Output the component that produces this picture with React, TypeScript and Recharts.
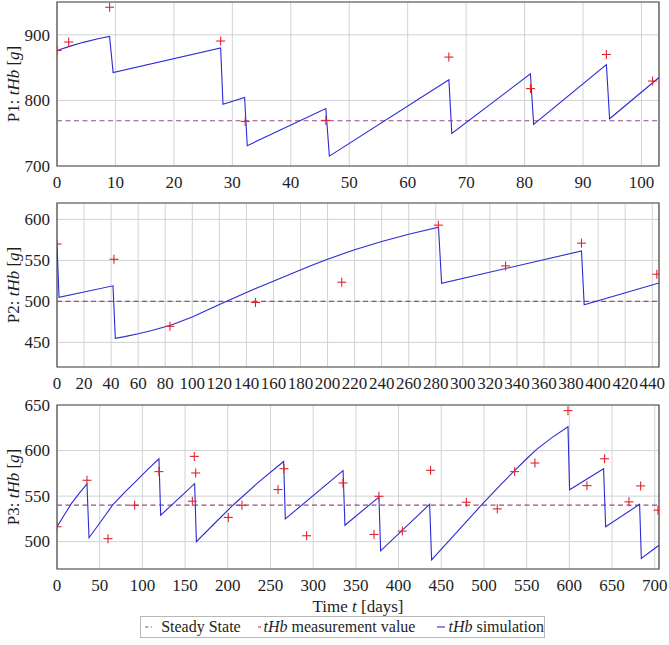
import React from "react";
import {
  ComposedChart,
  Line,
  Scatter,
  XAxis,
  YAxis,
  CartesianGrid,
  ReferenceLine,
  ReferenceArea,
} from "recharts";

// ---------- Data ----------
// Patient 1
const p1SimT = [0, 2, 4.5, 7, 9.0, 9.6, 28.0, 28.4, 32.1, 32.55, 46.0, 46.6, 67.05, 67.55, 81.0, 81.55, 94.0, 94.55, 103];
const p1SimV = [876, 882, 888.5, 894, 897.5, 842.5, 880, 794, 804.5, 731, 787.5, 715, 831.5, 749.5, 840.5, 763.5, 854.5, 772, 835];
const p1MeasT = [0, 2.0, 9.0, 28.0, 32.2, 46.0, 67.05, 81.0, 94.0, 101.9];
const p1MeasV = [876, 889, 942, 890.5, 768, 769.5, 866, 818, 870, 829.5];
const p1Steady = 769;
const p1XTicks = [0, 10, 20, 30, 40, 50, 60, 70, 80, 90, 100];
const p1YTicks = [700, 800, 900];
const p1XDomain = [0, 103];
const p1YDomain = [700, 950];

// Patient 2
const p2SimT = [0, 1.5, 41.4, 43.1, 50, 60, 70, 84, 100, 112, 125, 137.5, 150, 162.5, 175, 187.5, 200, 220, 240, 260, 282, 284.3, 387.7, 389.7, 445];
const p2SimV = [569.6, 505, 519, 455, 457, 460.5, 464.5, 471, 481, 490, 500, 509, 518, 526.5, 535, 543.5, 551.5, 563, 573, 582, 590.5, 522, 561.5, 496, 522.5];
const p2MeasT = [0, 42.1, 83.5, 146.7, 210.5, 281.9, 331.6, 387.7, 443.4];
const p2MeasV = [570, 551.4, 469.6, 498.7, 523.4, 593, 543.3, 571, 533.2];
const p2Steady = 500;
const p2XTicks = [0, 20, 40, 60, 80, 100, 120, 140, 160, 180, 200, 220, 240, 260, 280, 300, 320, 340, 360, 380, 400, 420, 440];
const p2YTicks = [450, 500, 550, 600];
const p2XDomain = [0, 445];
const p2YDomain = [420, 620];

// Patient 3
const p3SimT = [0, 9, 17, 26, 35.1, 37.5, 52, 65, 80, 92, 106, 119.4, 121.4, 161.2, 163.2, 185, 206, 235, 265.4, 267.4, 335, 337.2, 377, 379, 436.4, 438.7, 496.9, 520, 535.9, 550, 561.3, 580, 598.4, 600.3, 640.1, 642.5, 682.3, 684.3, 705];
const p3SimV = [516.4, 530, 542, 553, 563.4, 504.3, 523, 540, 555, 566, 579, 591, 529, 563.7, 500, 520.5, 540, 564.5, 588, 525, 578, 518, 549, 490, 541, 480, 540, 563, 578, 591, 601, 614.5, 626, 557, 580, 516.5, 541, 481.5, 496];
const p3MeasT = [0, 35.1, 59.7, 90.9, 119.4, 158.5, 160.8, 162.4, 200.6, 216.6, 258.8, 265.8, 292.3, 334.9, 371.2, 377, 404.4, 437.5, 479.3, 515.6, 535.9, 559.7, 598.4, 620.6, 641.3, 669.8, 683.5, 703.8];
const p3MeasV = [516.4, 567.4, 503.3, 540, 576.9, 544.4, 593.6, 575.4, 526.6, 540, 557.2, 580.1, 506.5, 564.4, 507.9, 549.8, 511.6, 578.3, 543.3, 536, 576.9, 586.3, 643.8, 561.5, 591, 543.7, 561.2, 534.6];
const p3Steady = 540;
const p3XTicks = [0, 50, 100, 150, 200, 250, 300, 350, 400, 450, 500, 550, 600, 650, 700];
const p3YTicks = [500, 550, 600, 650];
const p3XDomain = [0, 705];
const p3YDomain = [470, 650];

const legendLabels = ["Steady State", "measurement value", "simulation"];

// ---------- Styling ----------
const FONT = "'Liberation Serif', 'Times New Roman', serif";
const BLUE = "#2b2bd6";
const RED = "#e3242b";
const PURPLE = "#9a4a8a";
const GRID = "#d2d2d2";
const FRAME = "#4a4a4a";
const TEXT = "#1e1e1e";
const FS = 17;

const zip = (t: number[], v: number[]) => t.map((x, i) => ({ x, y: v[i] }));

const PlusShape = (props: any) => {
  const { cx, cy } = props;
  if (cx == null || cy == null) return null;
  return (
    <g>
      <line x1={cx - 4.5} y1={cy} x2={cx + 4.5} y2={cy} stroke={RED} strokeWidth={1.1} />
      <line x1={cx} y1={cy - 4.5} x2={cx} y2={cy + 4.5} stroke={RED} strokeWidth={1.1} />
    </g>
  );
};

const XTick = (props: any) => {
  const { x, y, payload } = props;
  return (
    <text
      x={x}
      y={y}
      dy="0.72em"
      textAnchor="middle"
      fontFamily={FONT}
      fontSize={FS}
      fill={TEXT}
    >
      {payload.value}
    </text>
  );
};

const YTick = (props: any) => {
  const { x, y, payload } = props;
  return (
    <text
      x={x}
      y={y}
      dy="0.34em"
      textAnchor="end"
      fontFamily={FONT}
      fontSize={FS}
      fill={TEXT}
    >
      {payload.value}
    </text>
  );
};

type PanelProps = {
  name: string;
  simT: number[];
  simV: number[];
  measT: number[];
  measV: number[];
  steady: number;
  xTicks: number[];
  yTicks: number[];
  xDomain: number[];
  yDomain: number[];
  top: number;
  showXLabel?: boolean;
};

const Panel = (p: PanelProps) => {
  const sim = zip(p.simT, p.simV);
  const meas = zip(p.measT, p.measV);
  const mTop = 14;
  const xAxisHeight = p.showXLabel ? 49 : 34;
  const height = mTop + 164 + xAxisHeight;
  return (
    <div style={{ position: "absolute", left: 0, top: p.top - mTop + 2 }}>
      <ComposedChart
        width={669}
        height={height}
        margin={{ top: mTop, right: 10, bottom: 0, left: 12 }}
      >
        <CartesianGrid stroke={GRID} strokeWidth={1} />
        <XAxis
          dataKey="x"
          type="number"
          domain={p.xDomain}
          ticks={p.xTicks}
          allowDataOverflow
          interval={0}
          tickLine={false}
          axisLine={false}
          tickMargin={4}
          height={xAxisHeight}
          tick={<XTick />}
          label={
            p.showXLabel
              ? {
                  content: (lp: any) => {
                    const vb = lp.viewBox || { x: 57, y: 0, width: 602, height: 0 };
                    return (
                      <text
                        x={vb.x + vb.width / 2}
                        y={vb.y + 37}
                        textAnchor="middle"
                        dominantBaseline="central"
                        fontFamily={FONT}
                        fontSize={FS}
                        fill={TEXT}
                      >
                        Time <tspan fontStyle="italic">t</tspan> [days]
                      </text>
                    );
                  },
                }
              : undefined
          }
        />
        <YAxis
          dataKey="y"
          type="number"
          domain={p.yDomain}
          ticks={p.yTicks}
          allowDataOverflow
          interval={0}
          tickLine={false}
          axisLine={false}
          tickMargin={1}
          width={45}
          tick={<YTick />}
          label={{
            content: (lp: any) => {
              const vb = lp.viewBox || { x: 12, y: mTop, width: 45, height: 164 };
              const cx = 13;
              const cy = vb.y + vb.height / 2;
              return (
                <text
                  transform={`translate(${cx},${cy}) rotate(-90)`}
                  textAnchor="middle"
                  dominantBaseline="central"
                  fontFamily={FONT}
                  fontSize={FS}
                  fill={TEXT}
                >
                  {p.name}: <tspan fontStyle="italic">tHb</tspan> [<tspan fontStyle="italic">g</tspan>]
                </text>
              );
            },
          }}
        />
        <ReferenceLine
          y={p.steady}
          stroke={PURPLE}
          strokeDasharray="5 3.5"
          strokeWidth={1.2}
        />
        <Line
          data={sim}
          dataKey="y"
          type="linear"
          stroke={BLUE}
          strokeWidth={1.1}
          dot={false}
          activeDot={false}
          isAnimationActive={false}
        />
        <Scatter
          data={meas}
          dataKey="y"
          shape={PlusShape}
          isAnimationActive={false}
        />
        <ReferenceArea
          x1={p.xDomain[0]}
          x2={p.xDomain[1]}
          y1={p.yDomain[0]}
          y2={p.yDomain[1]}
          fill="none"
          fillOpacity={0}
          stroke={FRAME}
          strokeWidth={1.2}
          ifOverflow="extendDomain"
        />
      </ComposedChart>
    </div>
  );
};

const Legend = () => (
  <div
    style={{
      position: "absolute",
      left: 140,
      top: 616,
      width: 405,
      height: 22,
      border: "1px solid #b8b8b8",
      boxSizing: "border-box",
      display: "flex",
      alignItems: "center",
      fontFamily: FONT,
      fontSize: 16,
      color: TEXT,
      whiteSpace: "nowrap",
    }}
  >
    <svg width={17} height={10} style={{ marginLeft: 4, marginRight: 9 }}>
      <line x1={0} y1={5} x2={17} y2={5} stroke={PURPLE} strokeWidth={1.2} strokeDasharray="3.5 2.5" />
    </svg>
    <span>{legendLabels[0]}</span>
    <svg width={9} height={10} style={{ marginLeft: 17, marginRight: 2 }}>
      <line x1={0} y1={5} x2={9} y2={5} stroke={RED} strokeWidth={1.1} />
      <line x1={4.5} y1={0.5} x2={4.5} y2={9.5} stroke={RED} strokeWidth={1.1} />
    </svg>
    <span>
      <i>tHb</i> {legendLabels[1]}
    </span>
    <svg width={19} height={10} style={{ marginLeft: 22, marginRight: 3 }}>
      <line x1={0} y1={5} x2={19} y2={5} stroke={BLUE} strokeWidth={1.1} />
    </svg>
    <span>
      <i>tHb</i> {legendLabels[2]}
    </span>
  </div>
);

export default function App() {
  return (
    <div
      style={{
        position: "absolute",
        left: 0,
        top: 0,
        width: 669,
        height: 645,
        background: "#fff",
        fontFamily: FONT,
        overflow: "hidden",
      }}
    >
      <Panel
        name="P1"
        simT={p1SimT}
        simV={p1SimV}
        measT={p1MeasT}
        measV={p1MeasV}
        steady={p1Steady}
        xTicks={p1XTicks}
        yTicks={p1YTicks}
        xDomain={p1XDomain}
        yDomain={p1YDomain}
        top={0}
      />
      <Panel
        name="P2"
        simT={p2SimT}
        simV={p2SimV}
        measT={p2MeasT}
        measV={p2MeasV}
        steady={p2Steady}
        xTicks={p2XTicks}
        yTicks={p2YTicks}
        xDomain={p2XDomain}
        yDomain={p2YDomain}
        top={201}
      />
      <Panel
        name="P3"
        simT={p3SimT}
        simV={p3SimV}
        measT={p3MeasT}
        measV={p3MeasV}
        steady={p3Steady}
        xTicks={p3XTicks}
        yTicks={p3YTicks}
        xDomain={p3XDomain}
        yDomain={p3YDomain}
        top={403}
        showXLabel
      />
      <Legend />
    </div>
  );
}
